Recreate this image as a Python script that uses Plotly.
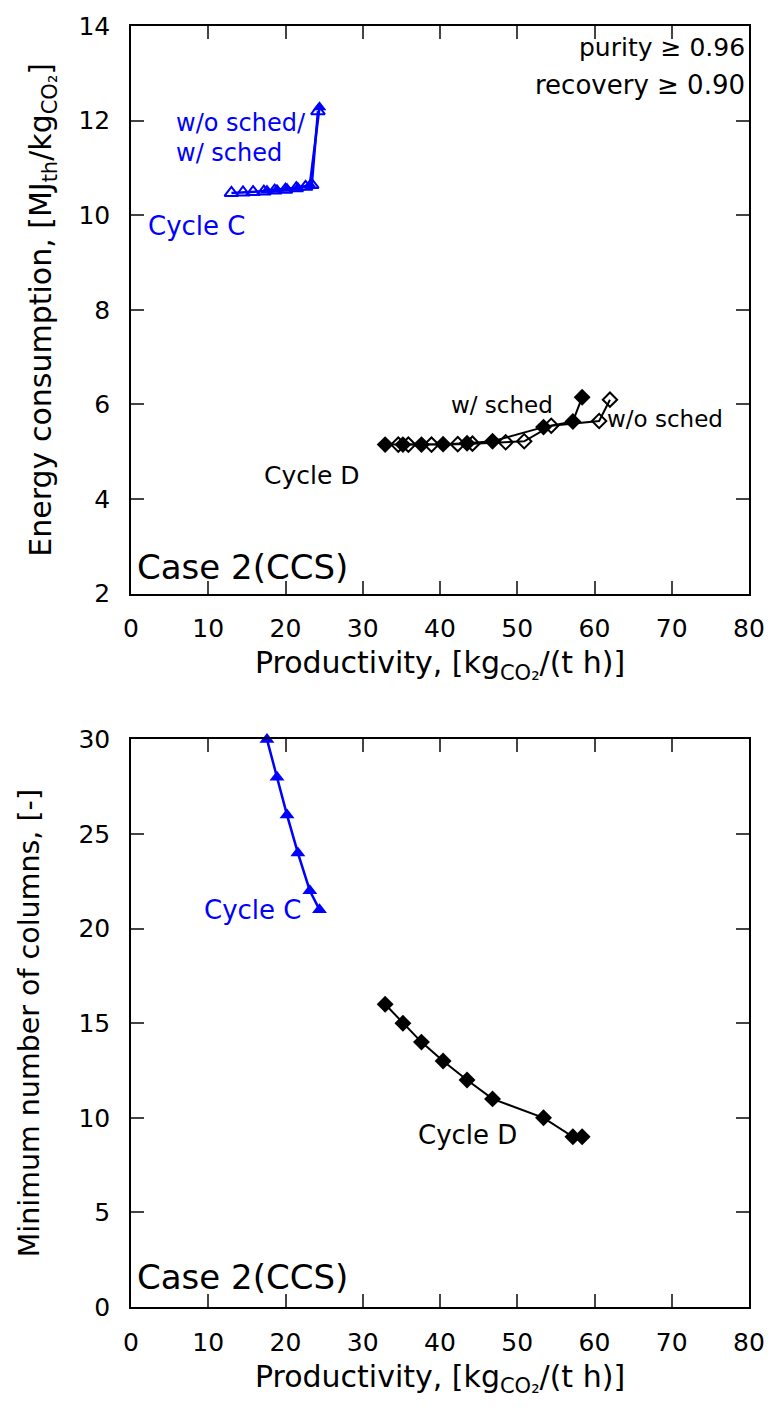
import plotly.graph_objects as go
from plotly.subplots import make_subplots

# ---- data ----
# Top: energy consumption vs productivity
c_wo_x = [13.0, 14.5, 15.8, 17.2, 18.6, 20.0, 21.4, 22.6, 23.4, 24.2]
c_wo_e = [10.47, 10.48, 10.49, 10.50, 10.52, 10.54, 10.57, 10.60, 10.64, 12.20]
c_w_x = [17.6, 18.9, 20.2, 21.6, 23.15, 24.4]
c_w_e = [10.52, 10.54, 10.56, 10.58, 10.64, 12.28]

d_w_x = [32.9, 35.2, 37.6, 40.4, 43.5, 46.8, 53.4, 57.2, 58.4]
d_w_e = [5.15, 5.15, 5.15, 5.16, 5.18, 5.22, 5.52, 5.64, 6.15]
d_wo_x = [34.6, 35.9, 38.9, 42.3, 44.2, 48.5, 50.9, 54.4, 60.6, 62.0]
d_wo_e = [5.15, 5.15, 5.15, 5.16, 5.17, 5.20, 5.22, 5.55, 5.65, 6.10]

# Bottom: minimum number of columns vs productivity
c_cols_x = [17.6, 18.9, 20.2, 21.6, 23.15, 24.4]
c_cols = [30, 28, 26, 24, 22, 21]
d_cols_x = [32.9, 35.2, 37.6, 40.4, 43.5, 46.8, 53.4, 57.2, 58.4]
d_cols = [16, 15, 14, 13, 12, 11, 10, 9, 9]

x_ticks = [0, 10, 20, 30, 40, 50, 60, 70, 80]
y1_ticks = [2, 4, 6, 8, 10, 12, 14]
y2_ticks = [0, 5, 10, 15, 20, 25, 30]

FONT = "DejaVu Sans"
BLUE = "#0000ff"

fig = make_subplots(rows=2, cols=1, vertical_spacing=0.0)

fig.add_trace(go.Scatter(x=c_wo_x, y=c_wo_e, mode="lines+markers",
                         line=dict(color=BLUE, width=2.5),
                         marker=dict(symbol="triangle-up-open", size=12, color=BLUE, line=dict(width=2))),
              row=1, col=1)
fig.add_trace(go.Scatter(x=c_w_x, y=c_w_e, mode="lines+markers",
                         line=dict(color=BLUE, width=2.5),
                         marker=dict(symbol="triangle-up", size=12, color=BLUE)),
              row=1, col=1)
fig.add_trace(go.Scatter(x=d_wo_x, y=d_wo_e, mode="lines+markers",
                         line=dict(color="black", width=2),
                         marker=dict(symbol="diamond-open", size=11, color="black", line=dict(width=2))),
              row=1, col=1)
fig.add_trace(go.Scatter(x=d_w_x, y=d_w_e, mode="lines+markers",
                         line=dict(color="black", width=2),
                         marker=dict(symbol="diamond", size=13, color="black")),
              row=1, col=1)

fig.add_trace(go.Scatter(x=c_cols_x, y=c_cols, mode="lines+markers",
                         line=dict(color=BLUE, width=2.5),
                         marker=dict(symbol="triangle-up", size=13, color=BLUE), cliponaxis=False),
              row=2, col=1)
fig.add_trace(go.Scatter(x=d_cols_x, y=d_cols, mode="lines+markers",
                         line=dict(color="black", width=2),
                         marker=dict(symbol="diamond", size=13, color="black")),
              row=2, col=1)

axis_common = dict(showline=True, linecolor="black", linewidth=1.5, mirror="allticks",
                   ticks="inside", ticklen=13, tickwidth=1.5, tickcolor="#444",
                   showgrid=False, zeroline=False,
                   tickfont=dict(family=FONT, size=25, color="black"))

xtitle = "Productivity, [kg<sub>CO₂</sub>/(t h)]"
fig.update_xaxes(range=[0, 80], tickvals=x_ticks, ticklabelstandoff=12,
                 title=dict(text=xtitle, font=dict(family=FONT, size=30, color="black"), standoff=10),
                 **axis_common)
fig.update_yaxes(ticklabelstandoff=14, **axis_common)
fig.update_yaxes(range=[2, 14], tickvals=y1_ticks, row=1, col=1,
                 title=dict(text="Energy consumption, [MJ<sub>th</sub>/kg<sub>CO₂</sub>]",
                            font=dict(family=FONT, size=30, color="black"), standoff=18))
fig.update_yaxes(range=[0, 30], tickvals=y2_ticks, row=2, col=1,
                 title=dict(text="Minimum number of columns, [-]",
                            font=dict(family=FONT, size=28.5, color="black"), standoff=30))

fig.update_layout(
    width=777, height=1408,
    margin=dict(l=131, r=24, t=23, b=101),
    paper_bgcolor="white", plot_bgcolor="white",
    showlegend=False,
    font=dict(family=FONT, color="black"),
    xaxis=dict(domain=[0, 1]),
    yaxis=dict(domain=[0.5569, 1.0]),
    xaxis2=dict(domain=[0, 1]),
    yaxis2=dict(domain=[0.0, 0.4431]),
)

def ann(text, x, y, xref, yref, color="black", size=22, xanchor="left"):
    fig.add_annotation(text=text, x=x, y=y, xref=xref, yref=yref, showarrow=False,
                       xanchor=xanchor, yanchor="middle",
                       font=dict(family=FONT, size=size, color=color))

ann("purity ≥ 0.96", 79.8, 13.55, "x", "y", size=25, xanchor="right")
ann("recovery ≥ 0.90", 79.8, 12.75, "x", "y", size=26, xanchor="right")
ann("w/o sched/", 5.6, 11.95, "x", "y", color=BLUE, size=24)
ann("w/ sched", 5.6, 11.32, "x", "y", color=BLUE, size=24)
ann("Cycle C", 1.9, 9.78, "x", "y", color=BLUE, size=26)
ann("Cycle D", 16.9, 4.5, "x", "y", size=25)
ann("w/ sched", 41.1, 5.98, "x", "y", size=23)
ann("w/o sched", 61.4, 5.69, "x", "y", size=23)
ann("Case 2(CCS)", 0.5, 2.57, "x", "y", size=34)

ann("Cycle C", 9.2, 21.0, "x2", "y2", color=BLUE, size=26)
ann("Cycle D", 36.9, 9.07, "x2", "y2", size=26)
ann("Case 2(CCS)", 0.5, 1.6, "x2", "y2", size=34)

fig.write_html("out.html")
